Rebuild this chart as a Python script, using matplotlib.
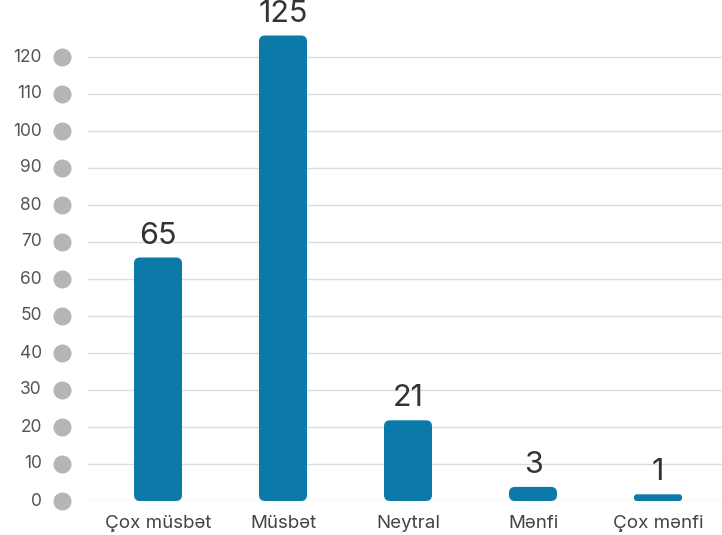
import matplotlib
matplotlib.use("Agg")
import matplotlib.pyplot as plt
from matplotlib.patches import FancyBboxPatch

categories = ["Çox müsbət", "Müsbət", "Neytral", "Mənfi", "Çox mənfi"]
values = [65, 125, 21, 3, 1]
yticks = [0, 10, 20, 30, 40, 50, 60, 70, 80, 90, 100, 110, 120]

plt.rcParams['font.family'] = ['Inter', 'DejaVu Sans']

W, H, DPI = 7.22, 5.35, 100
fig = plt.figure(figsize=(W, H), dpi=DPI)
ax = fig.add_axes([88/722, 34/535, 634/722, 481/535])
ax.set_xlim(-0.56, 4.512)
ax.set_ylim(0, 130)
for s in ax.spines.values():
    s.set_visible(False)

# grid
for t in yticks:
    ax.axhline(t, color="#dcdcdc", lw=1.0, zorder=0)

# px conversions
px_x = 634 / (4.512 + 0.56)   # px per x unit
px_y = 481 / 130              # px per y unit
aspect = px_x / px_y
bar_w_px = 45
pad_px = 1.5
radius_px = 6
bar_color = "#0b7aa8"
for i, v in enumerate(values):
    w = bar_w_px / px_x
    pad = pad_px / px_x
    h_px = v * px_y + 2 * pad_px
    r = min(radius_px, h_px / 2 - 0.5, (bar_w_px + 2 * pad_px) / 2) / px_x
    p = FancyBboxPatch((i - w / 2, pad * aspect), w, v,
                       boxstyle=f"round,pad={pad},rounding_size={r}",
                       mutation_aspect=aspect, fc=bar_color, ec="none",
                       zorder=2, clip_on=False)
    ax.add_patch(p)
    ax.text(i, v + (pad_px * 2 + 8) / px_y, str(v), ha="center", va="bottom",
            fontsize=22, color="#333333", zorder=3, clip_on=False)

# y labels and dots
ytr = ax.get_yaxis_transform()
for t in yticks:
    ax.text(-0.0726, t, str(t), transform=ytr, ha="right", va="center",
            fontsize=12.5, color="#555555")
ax.plot([-0.041] * len(yticks), yticks, 'o', transform=ytr, ms=13,
        color="#b5b5b5", mec="none", clip_on=False)

ax.set_yticks([])
ax.set_xticks(range(len(categories)))
ax.set_xticklabels(categories, fontsize=13.5, color="#444444")
ax.tick_params(axis="x", length=0, pad=10)

fig.savefig("out.png", dpi=DPI)
